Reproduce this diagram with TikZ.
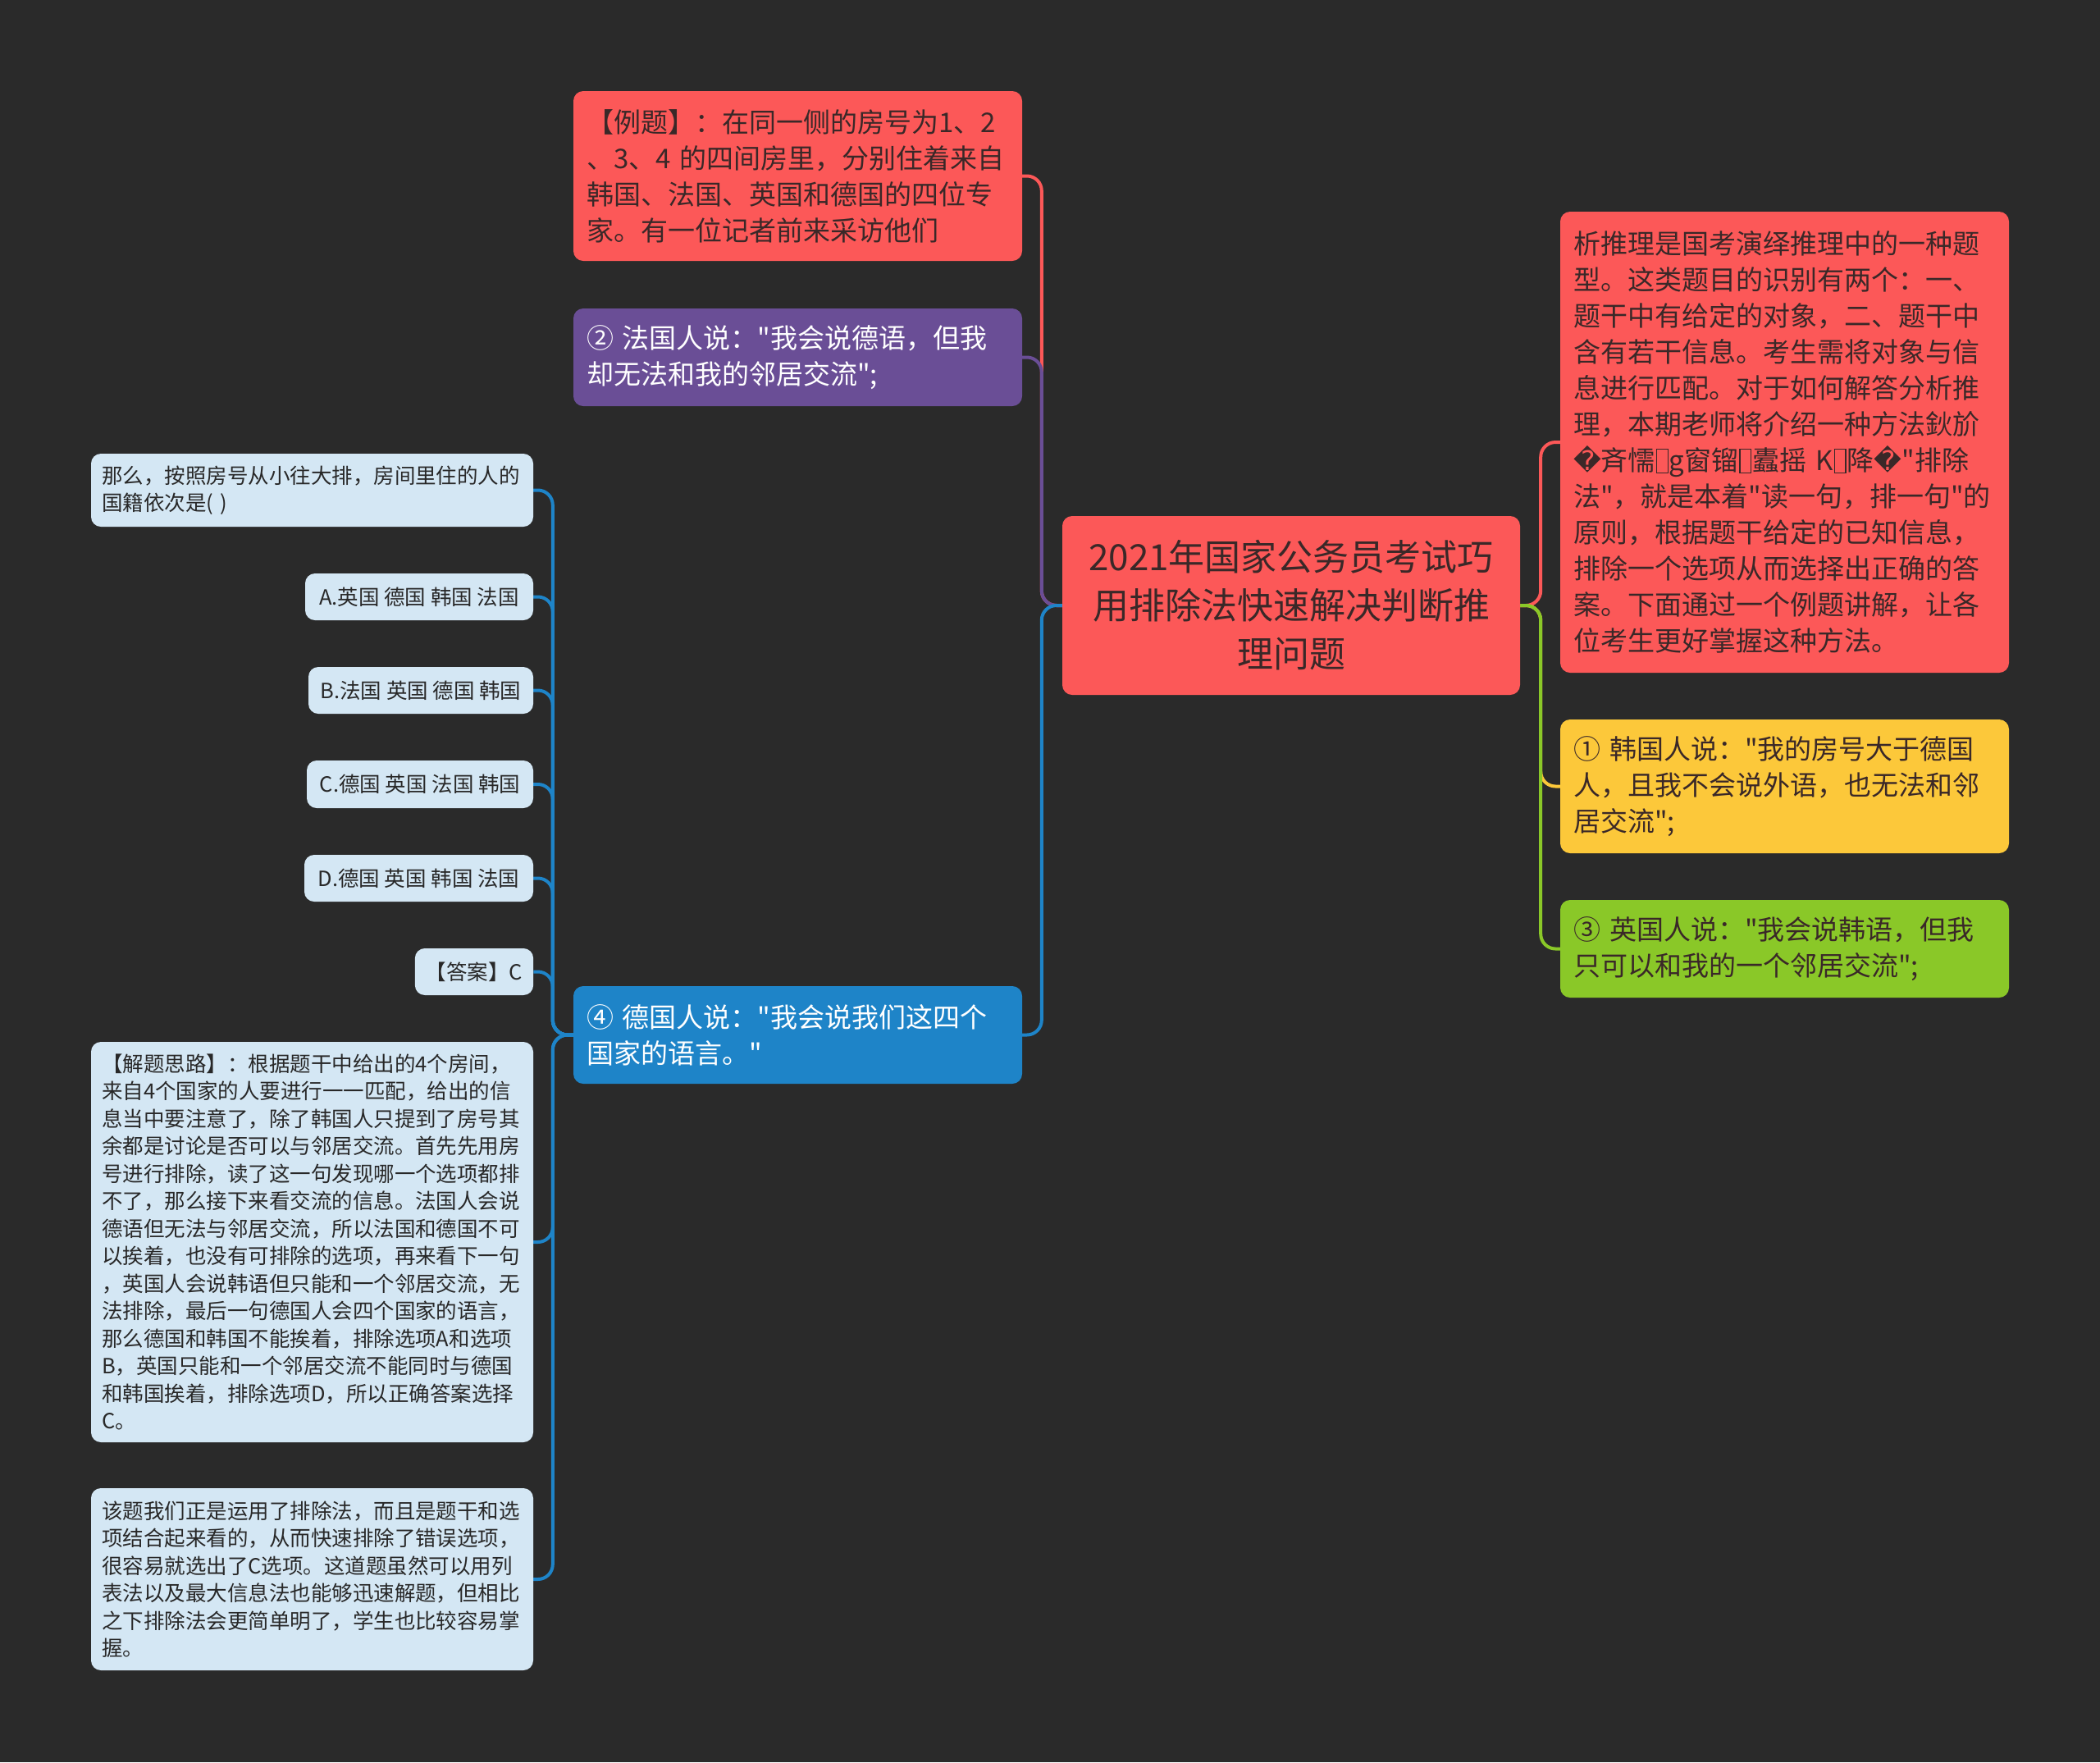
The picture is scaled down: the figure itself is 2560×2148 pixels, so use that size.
\documentclass[tikz,border=0pt]{standalone}
\usepackage{fontspec}
\setmainfont{Noto Sans CJK SC}[Ligatures=TeXOff]
\newfontfamily\replfont{DejaVu Sans}
\definecolor{bg}{RGB}{42,42,42}
\definecolor{cred}{RGB}{252,88,88}
\definecolor{cpurple}{RGB}{106,78,150}
\definecolor{cblue}{RGB}{30,132,200}
\definecolor{cyellow}{RGB}{252,200,58}
\definecolor{cgreen}{RGB}{138,200,40}
\definecolor{clight}{RGB}{212,231,244}
\definecolor{tdark}{RGB}{58,40,40}
\definecolor{tgray}{RGB}{40,40,40}
\newcommand\tofu{\kern1pt{\fboxrule=1.2pt\fboxsep=0pt\raisebox{-0.08em}{\fbox{\rule{0pt}{0.85em}\hspace{0.38em}}}}\kern1pt}
\newcommand\repch{{\replfont\char"FFFD}}
\pgfdeclarelayer{canvas}
\pgfdeclarelayer{wires}
\pgfsetlayers{canvas,wires,main}
\begin{document}
\begin{tikzpicture}[x=1pt,y=-1pt,
  box/.style={rounded corners=12pt, inner xsep=16pt, inner ysep=0pt, align=left, anchor=center},
  big/.style={box, text width=515pt, font=\fontsize{33}{44}\selectfont},
  small/.style={box, fill=clight, text=tgray, inner xsep=13pt, font=\fontsize{25.5}{33.5}\selectfont},
  opt/.style={small, align=center, minimum height=57pt},
  link/.style={line width=4pt, rounded corners=18pt},
]
\begin{pgfonlayer}{canvas}
\fill[bg] (0,0) rectangle (2560,2148);
\end{pgfonlayer}

\node[box, fill=cred, text=tdark, text width=526pt, align=center, minimum height=218pt, font=\fontsize{44}{59}\selectfont] (root) at (1574,738) {2021年国家公务员考试巧\\用排除法快速解决判断推\\理问题};
\node[big, fill=cred, text=tdark, minimum height=207pt] (ex) at (972.5,214.5) {【例题】：在同一侧的房号为1、2\\、3、4 的四间房里，分别住着来自\\韩国、法国、英国和德国的四位专\\家。有一位记者前来采访他们};
\node[big, fill=cpurple, text=white, minimum height=119pt] (p2) at (972.5,435.5) {② 法国人说："我会说德语，但我\\却无法和我的邻居交流";};
\node[big, fill=cblue, text=white, minimum height=119pt] (p4) at (972.5,1261.5) {④ 德国人说："我会说我们这四个\\国家的语言。"};
\node[big, fill=cred, text=tdark, minimum height=562pt] (intro) at (2175.5,539) {析推理是国考演绎推理中的一种题\\型。这类题目的识别有两个：一、\\题干中有给定的对象，二、题干中\\含有若干信息。考生需将对象与信\\息进行匹配。对于如何解答分析推\\理，本期老师将介绍一种方法鈥斺\\\repch 斉懦\tofu g窗镏\tofu 蠹摇 K\tofu 降\repch"排除\\法"，就是本着"读一句，排一句"的\\原则，根据题干给定的已知信息，\\排除一个选项从而选择出正确的答\\案。下面通过一个例题讲解，让各\\位考生更好掌握这种方法。};
\node[big, fill=cyellow, text=tdark, minimum height=163pt] (p1) at (2175.5,958.5) {① 韩国人说："我的房号大于德国\\人，且我不会说外语，也无法和邻\\居交流";};
\node[big, fill=cgreen, text=tdark, minimum height=119pt] (p3) at (2175.5,1156.5) {③ 英国人说："我会说韩语，但我\\只可以和我的一个邻居交流";};
\node[small, text width=513pt, minimum height=89pt] (q) at (380.5,597.5) {那么，按照房号从小往大排，房间里住的人的\\国籍依次是( )};
\node[opt, minimum width=278pt] (oa) at (511,727.5) {A.英国 德国 韩国 法国};
\node[opt, minimum width=274pt] (ob) at (513,841.5) {B.法国 英国 德国 韩国};
\node[opt, minimum width=276pt, minimum height=58pt] (oc) at (512,956) {C.德国 英国 法国 韩国};
\node[opt, minimum width=279pt] (od) at (510.5,1070.5) {D.德国 英国 韩国 法国};
\node[opt, minimum width=144pt] (ans) at (578,1184.5) {【答案】C};
\node[small, text width=513pt, minimum height=488pt] (sol) at (380.5,1514) {【解题思路】：根据题干中给出的4个房间，\\来自4个国家的人要进行一一匹配，给出的信\\息当中要注意了，除了韩国人只提到了房号其\\余都是讨论是否可以与邻居交流。首先先用房\\号进行排除，读了这一句发现哪一个选项都排\\不了，那么接下来看交流的信息。法国人会说\\德语但无法与邻居交流，所以法国和德国不可\\以挨着，也没有可排除的选项，再来看下一句\\，英国人会说韩语但只能和一个邻居交流，无\\法排除，最后一句德国人会四个国家的语言，\\那么德国和韩国不能挨着，排除选项A和选项\\B，英国只能和一个邻居交流不能同时与德国\\和韩国挨着，排除选项D，所以正确答案选择\\C。};
\node[small, text width=513pt, minimum height=222pt] (fin) at (380.5,1925) {该题我们正是运用了排除法，而且是题干和选\\项结合起来看的，从而快速排除了错误选项，\\很容易就选出了C选项。这道题虽然可以用列\\表法以及最大信息法也能够迅速解题，但相比\\之下排除法会更简单明了，学生也比较容易掌\\握。};

\begin{pgfonlayer}{wires}
\draw[link, cred] (root.west) -- ++(-25,0) |- (ex.east);
\draw[link, cpurple] (root.west) -- ++(-25,0) |- (p2.east);
\draw[link, cblue] (root.west) -- ++(-25,0) |- (p4.east);
\draw[link, cred] (root.east) -- ++(25,0) |- (intro.west);
\draw[link, cyellow] (root.east) -- ++(25,0) |- (p1.west);
\draw[link, cgreen] (root.east) -- ++(25,0) |- (p3.west);
\foreach \n in {q,oa,ob,oc,od,ans,sol,fin}
  \draw[link, cblue] (p4.west) -- ++(-25,0) |- (\n.east);
\end{pgfonlayer}
\end{tikzpicture}
\end{document}
